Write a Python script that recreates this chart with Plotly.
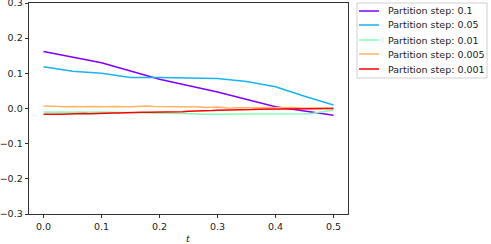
import numpy as np
import plotly.graph_objects as go

t_01 = [0.0, 0.1, 0.2, 0.3, 0.4, 0.5]
y_01 = [0.162, 0.130, 0.083, 0.047, 0.005, -0.019]

t_005 = [0.0, 0.05, 0.1, 0.15, 0.2, 0.25, 0.3, 0.35, 0.4, 0.45, 0.5]
y_005 = [0.119, 0.106, 0.100, 0.088, 0.088, 0.087, 0.085, 0.077, 0.062, 0.035, 0.010]

t_fine = [round(i * 0.01, 2) for i in range(51)]
y_001 = [-0.010, -0.011, -0.011, -0.010, -0.011, -0.011, -0.010, -0.011, -0.011, -0.010,
         -0.010, -0.011, -0.011, -0.010, -0.011, -0.011, -0.012, -0.012, -0.013, -0.013,
         -0.014, -0.013, -0.013, -0.014, -0.014, -0.015, -0.015, -0.016, -0.016, -0.017,
         -0.016, -0.015, -0.015, -0.015, -0.015, -0.016, -0.015, -0.015, -0.016, -0.016,
         -0.016, -0.016, -0.017, -0.017, -0.017, -0.016, -0.015, -0.012, -0.009, -0.006,
         -0.004]
y_0005 = [0.007, 0.006, 0.006, 0.005, 0.005, 0.006, 0.005, 0.005, 0.006, 0.005,
          0.004, 0.005, 0.006, 0.005, 0.004, 0.005, 0.006, 0.007, 0.007, 0.006,
          0.006, 0.005, 0.005, 0.006, 0.005, 0.004, 0.005, 0.004, 0.003, 0.004,
          0.004, 0.003, 0.001, 0.002, 0.003, 0.002, 0.002, 0.003, 0.002, 0.003,
          0.002, 0.003, 0.002, 0.003, 0.002, 0.002, 0.002, 0.001, 0.002, 0.001,
          0.001]
y_0001 = [-0.016, -0.017, -0.016, -0.016, -0.015, -0.016, -0.015, -0.014, -0.015, -0.014,
          -0.013, -0.013, -0.013, -0.013, -0.012, -0.012, -0.012, -0.011, -0.011, -0.011,
          -0.010, -0.010, -0.010, -0.009, -0.009, -0.008, -0.008, -0.007, -0.007, -0.006,
          -0.005, -0.005, -0.004, -0.004, -0.003, -0.003, -0.003, -0.002, -0.002, -0.001,
          -0.001, -0.001, -0.001, 0.000, 0.000, 0.000, 0.000, 0.000, 0.000, 0.000,
          0.000]

x_ticks = [0, 0.1, 0.2, 0.3, 0.4, 0.5]
x_ticklabels = ["0.0", "0.1", "0.2", "0.3", "0.4", "0.5"]
y_ticks = [-0.3, -0.2, -0.1, 0, 0.1, 0.2, 0.3]
y_ticklabels = ["\u22120.3", "\u22120.2", "\u22120.1", "0.0", "0.1", "0.2", "0.3"]

series = [
    ("Partition step: 0.1", t_01, y_01, "#8000ff"),
    ("Partition step: 0.05", t_005, y_005, "#1ab2f0"),
    ("Partition step: 0.01", t_fine, y_001, "#80ffb4"),
    ("Partition step: 0.005", t_fine, y_0005, "#ffb462"),
    ("Partition step: 0.001", t_fine, y_0001, "#ff0000"),
]

W, H = 491, 244
L, R, T, B = 29, 348, 3, 214  # plot area in pixels


def px_x(p):
    return (p - L) / (R - L)


def px_y(p):
    return (B - p) / (B - T)


fig = go.Figure()
for name, tx, yy, col in series:
    fig.add_trace(go.Scatter(x=tx, y=yy, mode="lines", name=name, showlegend=False,
                             line=dict(color=col, width=1.5)))

axis_common = dict(showline=True, mirror=True, linecolor="#333333", linewidth=0.8,
                   ticks="outside", ticklen=3.5, tickcolor="#333333", tickwidth=0.8,
                   showgrid=False, zeroline=False, automargin=False,
                   ticklabeloverflow="allow",
                   tickfont=dict(family="DejaVu Sans", size=9.5, color="#222222"))

# manual legend (matplotlib-style)
shapes = [dict(type="rect", xref="paper", yref="paper",
               x0=px_x(357), x1=px_x(487), y0=px_y(78), y1=px_y(3),
               line=dict(color="#d0d0d0", width=1), fillcolor="white", layer="above")]
annotations = []
row_y = [11, 25, 40, 54, 69]
for (name, _, _, col), ry in zip(series, row_y):
    shapes.append(dict(type="line", xref="paper", yref="paper",
                       x0=px_x(359), x1=px_x(379), y0=px_y(ry), y1=px_y(ry),
                       line=dict(color=col, width=1.5)))
    annotations.append(dict(xref="paper", yref="paper", x=px_x(386), y=px_y(ry),
                            xanchor="left", yanchor="middle", showarrow=False,
                            text=name,
                            font=dict(family="DejaVu Sans", size=9.5, color="#222222")))

annotations.append(dict(xref="paper", yref="paper", x=px_x(188), y=px_y(238),
                        xanchor="center", yanchor="middle", showarrow=False,
                        text="<i>t</i>",
                        font=dict(family="DejaVu Serif", size=10, color="#222222")))

fig.update_layout(
    width=W, height=H,
    margin=dict(l=L, r=W - R, t=T, b=H - B),
    paper_bgcolor="white", plot_bgcolor="white",
    xaxis=dict(range=[-0.025, 0.525], tickvals=x_ticks, ticktext=x_ticklabels,
               **axis_common),
    yaxis=dict(range=[-0.3, 0.3], tickvals=y_ticks, ticktext=y_ticklabels,
               **axis_common),
    shapes=shapes,
    annotations=annotations,
    showlegend=False,
)

fig.write_html("out.html", config={"displayModeBar": False},
               post_script="document.body.style.margin='0';document.body.style.overflow='hidden';")
